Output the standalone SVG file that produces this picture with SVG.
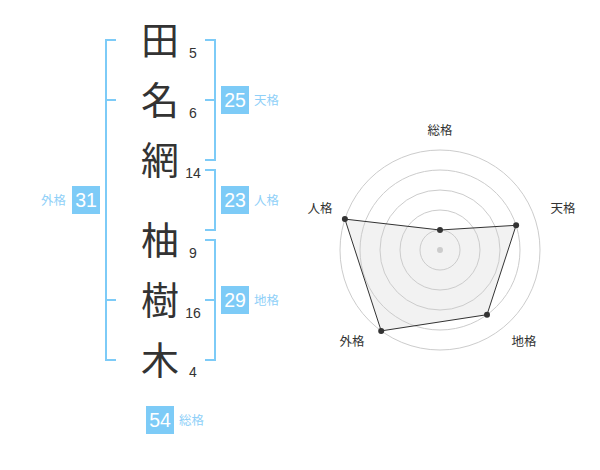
<svg xmlns="http://www.w3.org/2000/svg" width="600" height="470" viewBox="0 0 600 470">
<style>
.kanji{font-family:"Noto Sans CJK JP","Noto Sans CJK SC",sans-serif;font-size:38px;fill:#333;text-anchor:middle}
.stroke{font-family:"Liberation Sans",Arial,sans-serif;font-size:14px;fill:#333;text-anchor:middle}
.br{fill:none;stroke:#7dcbf7;stroke-width:2}
.box{fill:#7dcbf7}
.num{font-family:"Liberation Sans",Arial,sans-serif;font-size:19.5px;fill:#fff;text-anchor:middle}
.lbl{font-family:"Noto Sans CJK JP","Noto Sans CJK SC",sans-serif;font-size:12.5px;fill:#8fd0f8}
.rl{font-family:"Noto Sans CJK JP","Noto Sans CJK SC",sans-serif;font-size:12.5px;fill:#333;text-anchor:middle}
.ring{fill:none;stroke:#ccc;stroke-width:1}
</style>
<rect width="600" height="470" fill="#fff"/>
<g id="chars">
<text class="kanji" x="160" y="54">田</text>
<text class="kanji" x="160" y="114">名</text>
<text class="kanji" x="160" y="174">網</text>
<text class="kanji" x="160" y="254">柚</text>
<text class="kanji" x="160" y="314">樹</text>
<text class="kanji" x="160" y="374">木</text>
</g>
<g id="strokes">
<text class="stroke" x="193" y="58">5</text>
<text class="stroke" x="193" y="118">6</text>
<text class="stroke" x="193" y="178">14</text>
<text class="stroke" x="193" y="258">9</text>
<text class="stroke" x="193" y="318">16</text>
<text class="stroke" x="193" y="377">4</text>
</g>
<g id="brackets">
<path class="br" d="M116,40 H106 V360 H116 M106,100 H116 M106,300 H116"/>
<path class="br" d="M205,40 H215 V160 H205 M215,100 H205"/>
<path class="br" d="M205,170 H215 V230 H205"/>
<path class="br" d="M205,240 H215 V360 H205 M215,300 H205"/>
</g>
<g id="tenkaku">
<rect class="box" x="221" y="86" width="28" height="28"/>
<text class="num" x="235" y="107">25</text>
<text class="lbl" x="254" y="105">天格</text>
</g>
<g id="jinkaku">
<rect class="box" x="221" y="186" width="28" height="28"/>
<text class="num" x="235" y="207">23</text>
<text class="lbl" x="254" y="205">人格</text>
</g>
<g id="chikaku">
<rect class="box" x="221" y="286" width="28" height="28"/>
<text class="num" x="235" y="307">29</text>
<text class="lbl" x="254" y="305">地格</text>
</g>
<g id="gaikaku">
<rect class="box" x="72" y="186" width="28" height="28"/>
<text class="num" x="86" y="207">31</text>
<text class="lbl" x="66" y="205" text-anchor="end">外格</text>
</g>
<g id="soukaku">
<rect class="box" x="146" y="406" width="28" height="28"/>
<text class="num" x="160" y="427">54</text>
<text class="lbl" x="179" y="425">総格</text>
</g>
<g id="radar">
<polygon points="440,230 516.1,225.3 487,314.7 381.2,330.9 344.9,219.1" fill="#e6e6e6" fill-opacity="0.5" stroke="none"/>
<circle class="ring" cx="440" cy="250" r="20"/>
<circle class="ring" cx="440" cy="250" r="40"/>
<circle class="ring" cx="440" cy="250" r="60"/>
<circle class="ring" cx="440" cy="250" r="80"/>
<circle class="ring" cx="440" cy="250" r="100"/>
<circle cx="440" cy="250" r="3" fill="#ccc"/>
<polygon points="440,230 516.1,225.3 487,314.7 381.2,330.9 344.9,219.1" fill="none" stroke="#333" stroke-width="1"/>
<g fill="#333">
<circle cx="440" cy="230" r="3"/>
<circle cx="516.1" cy="225.3" r="3"/>
<circle cx="487" cy="314.7" r="3"/>
<circle cx="381.2" cy="330.9" r="3"/>
<circle cx="344.9" cy="219.1" r="3"/>
</g>
<text class="rl" x="440" y="135">総格</text>
<text class="rl" x="563" y="213">天格</text>
<text class="rl" x="524" y="346">地格</text>
<text class="rl" x="352" y="346">外格</text>
<text class="rl" x="320" y="213">人格</text>
</g>
</svg>
